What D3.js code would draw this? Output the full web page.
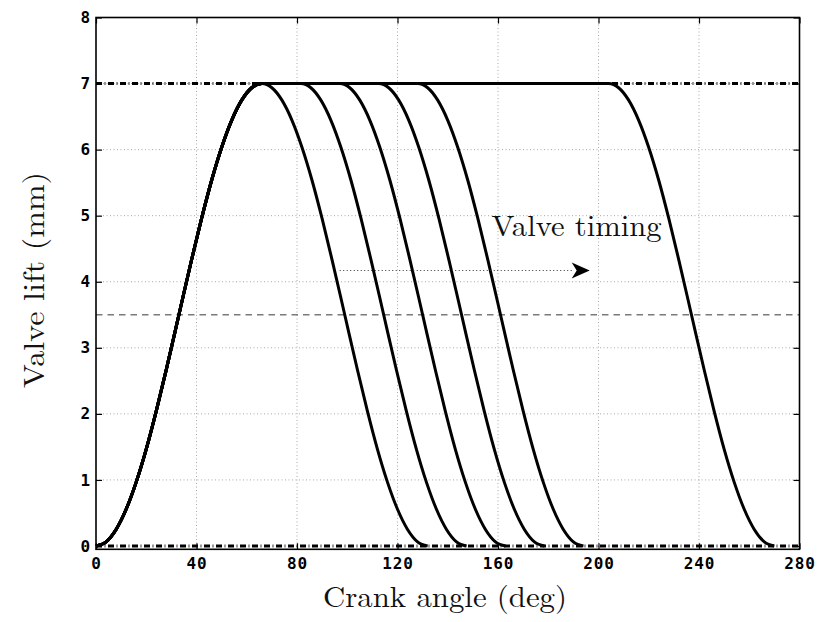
<!DOCTYPE html>
<html>
<head>
<meta charset="utf-8">
<script src="https://cdn.jsdelivr.net/npm/d3@7"></script>
<style>
  html, body { margin: 0; padding: 0; background: #fff; }
  svg { display: block; }
</style>
</head>
<body>
<svg id="chart" width="818" height="622"></svg>
<script>
// Cam lift profile during opening (crank angle in deg, lift in mm)
const riseAngle = [0, 4, 8, 12, 16, 20, 24, 28, 33, 38, 42, 46, 50, 54, 58, 62, 66];
const riseLift  = [0, 0.063, 0.251, 0.556, 0.967, 1.467, 2.046, 2.675, 3.5, 4.325, 4.954, 5.533, 6.033, 6.444, 6.749, 6.937, 7.0];

// Crank angle at which each valve event starts closing (deg)
const closeStart = [66, 81.5, 97, 112.5, 128, 204];

// Reference levels (mm)
const maxLift = 7;
const halfLift = 3.5;
const zeroLift = 0;

// Axis ticks
const xTicks = [0, 40, 80, 120, 160, 200, 240, 280];
const yTicks = [0, 1, 2, 3, 4, 5, 6, 7, 8];
const xGrid = [40, 80, 120, 160, 200, 240];
const yGrid = [1, 2, 3, 4, 5, 6, 7];

// Annotation: arrow from -> to in data units, and its label
const arrowFrom = [97, 4.17];
const arrowTo = [196.5, 4.17];
const noteText = "Valve timing";
const notePos = [157.4, 4.69];

const svg = d3.select("#chart");
const L = 96, R = 799.5, T = 17.5, B = 549.3;

const x = d3.scaleLinear().domain([0, 280]).range([L, R]);
const y = d3.scaleLinear().domain([-0.05, 8]).range([B, T]);

const tickFont = "'DejaVu Sans Mono', 'Liberation Mono', monospace";
const serif = "'Latin Modern Roman', 'CMU Serif', 'Liberation Serif', 'DejaVu Serif', serif";

// Grid
const grid = svg.append("g").attr("stroke", "#a8a8a8").attr("stroke-width", 1)
  .attr("stroke-dasharray", "1,2.5").attr("fill", "none");
grid.selectAll("line.gx").data(xGrid).join("line")
  .attr("x1", d => x(d)).attr("x2", d => x(d)).attr("y1", T).attr("y2", B);
grid.selectAll("line.gy").data(yGrid).join("line")
  .attr("x1", L).attr("x2", R).attr("y1", d => y(d)).attr("y2", d => y(d));

// Half-lift reference
svg.append("line")
  .attr("x1", L).attr("x2", R).attr("y1", y(halfLift)).attr("y2", y(halfLift))
  .attr("stroke", "#7a7a7a").attr("stroke-width", 1.4).attr("stroke-dasharray", "6.5,5");

// Max and zero lift reference (dash-dot)
svg.selectAll("line.ref").data([maxLift, zeroLift]).join("line")
  .attr("x1", L).attr("x2", R).attr("y1", d => y(d)).attr("y2", d => y(d))
  .attr("stroke", "#000").attr("stroke-width", 3).attr("stroke-dasharray", "6,2.6,0.8,2.6");

// Lift curves
function eventPoints(close) {
  const pts = riseAngle.map((a, i) => [a, riseLift[i]]);
  const peak = riseAngle[riseAngle.length - 1];
  for (let i = riseAngle.length - 1; i >= 0; i--) {
    const ang = close + (peak - riseAngle[i]);
    if (ang <= pts[pts.length - 1][0]) continue;
    pts.push([ang, riseLift[i]]);
  }
  return pts;
}
const line = d3.line().x(d => x(d[0])).y(d => y(d[1])).curve(d3.curveMonotoneX);
svg.append("g").selectAll("path").data(closeStart).join("path")
  .attr("d", d => line(eventPoints(d)))
  .attr("fill", "none").attr("stroke", "#000").attr("stroke-width", 3)
  .attr("stroke-linejoin", "round");

// Axes (box with inward ticks)
function styleAxis(g, labels) {
  g.select(".domain").remove();
  g.selectAll(".tick line").attr("stroke", "#000").attr("stroke-width", 1.2);
  if (!labels) g.selectAll(".tick text").remove();
  else g.selectAll(".tick text").attr("fill", "#000")
    .style("font-family", tickFont).style("font-weight", "bold").style("font-size", "16px")
    .style("letter-spacing", "0.8px");
}
svg.append("g").attr("transform", `translate(0,${B})`)
  .call(d3.axisBottom(x).tickValues(xTicks).tickSize(-6).tickPadding(8).tickFormat(d3.format("d")))
  .call(g => styleAxis(g, true));
svg.append("g").attr("transform", `translate(0,${T})`)
  .call(d3.axisTop(x).tickValues(xTicks).tickSize(-6))
  .call(g => styleAxis(g, false));
svg.append("g").attr("transform", `translate(${L},0)`)
  .call(d3.axisLeft(y).tickValues(yTicks).tickSize(-6).tickPadding(5).tickFormat(d3.format("d")))
  .call(g => styleAxis(g, true));
svg.append("g").attr("transform", `translate(${R},0)`)
  .call(d3.axisRight(y).tickValues(yTicks).tickSize(-6))
  .call(g => styleAxis(g, false));

svg.append("rect").attr("x", L).attr("y", T).attr("width", R - L).attr("height", B - T)
  .attr("fill", "none").attr("stroke", "#000").attr("stroke-width", 1.6);

// Axis titles
svg.append("text").attr("x", 445).attr("y", 607).attr("text-anchor", "middle")
  .style("font-family", serif).style("font-size", "29px").attr("fill", "#111")
  .attr("textLength", 244).attr("lengthAdjust", "spacingAndGlyphs")
  .text("Crank angle (deg)");
svg.append("text").attr("transform", "translate(44,280) rotate(-90)").attr("text-anchor", "middle")
  .style("font-family", serif).style("font-size", "29px").attr("fill", "#111")
  .attr("textLength", 216).attr("lengthAdjust", "spacingAndGlyphs")
  .text("Valve lift (mm)");

// Annotation
svg.append("text").attr("x", x(notePos[0])).attr("y", y(notePos[1]))
  .style("font-family", serif).style("font-size", "29px").attr("fill", "#111")
  .attr("textLength", 170).attr("lengthAdjust", "spacingAndGlyphs")
  .text(noteText);

const ax0 = x(arrowFrom[0]), ax1 = x(arrowTo[0]), ay = y(arrowFrom[1]);
const headLen = 18, headHalf = 8, notch = 5;
svg.append("line").attr("x1", ax0).attr("x2", ax1 - headLen + 2).attr("y1", ay).attr("y2", ay)
  .attr("stroke", "#333").attr("stroke-width", 1.2).attr("stroke-dasharray", "1,2.5");
svg.append("path")
  .attr("d", `M${ax1},${ay} L${ax1 - headLen},${ay - headHalf} L${ax1 - headLen + notch},${ay} L${ax1 - headLen},${ay + headHalf} Z`)
  .attr("fill", "#000");
</script>
</body>
</html>
